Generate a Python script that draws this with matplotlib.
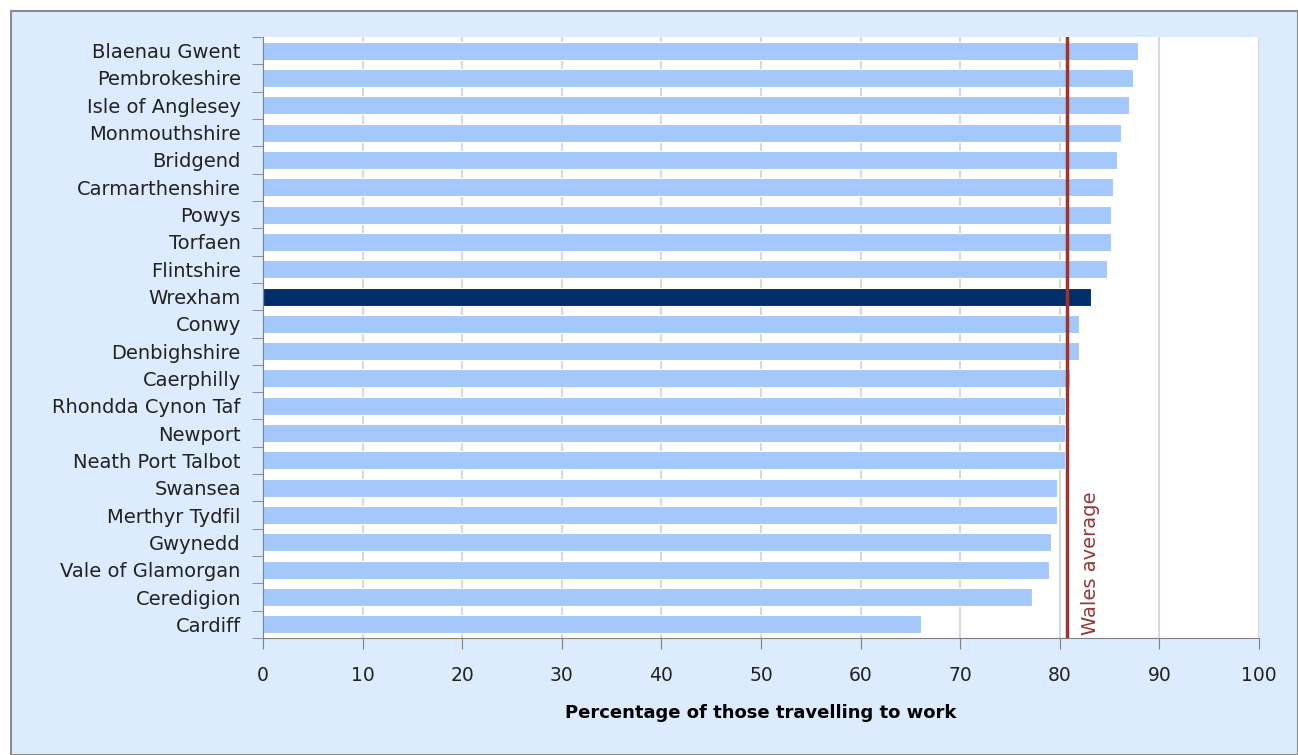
import numpy as np
import matplotlib.pyplot as plt
from matplotlib.patches import Rectangle

#-------------data-------------#
areas = ['Blaenau Gwent', 'Pembrokeshire', 'Isle of Anglesey', 'Monmouthshire',
         'Bridgend', 'Carmarthenshire', 'Powys', 'Torfaen', 'Flintshire',
         'Wrexham', 'Conwy', 'Denbighshire', 'Caerphilly', 'Rhondda Cynon Taf',
         'Newport', 'Neath Port Talbot', 'Swansea', 'Merthyr Tydfil', 'Gwynedd',
         'Vale of Glamorgan', 'Ceredigion', 'Cardiff']
percent = [87.9, 87.3, 86.9, 86.1, 85.7, 85.3, 85.1, 85.1, 84.7, 83.1, 81.9,
           81.9, 81.0, 80.5, 80.5, 80.5, 79.7, 79.7, 79.1, 78.9, 77.2, 66.1]
wales_average = 80.7
highlight = 'Wrexham'
xticks = list(range(0, 101, 10))

light_blue = '#A4C8FB'
navy = '#002E6A'
avg_red = '#953735'
bg = '#DCEBFD'

#-------------figure-------------#
fig = plt.figure(figsize=(12.98, 7.55), dpi=100)
fig.patch.set_facecolor('white')
fig.patches.append(Rectangle((11 / 1298, 0), 1 - 11 / 1298, 1 - 11 / 755,
                             transform=fig.transFigure, facecolor=bg,
                             edgecolor='#8C8C8C', linewidth=1.5, zorder=-1))

ax = fig.add_axes([263 / 1298, 1 - 638 / 755, (1259 - 263) / 1298, (638 - 37) / 755])
ax.set_facecolor('white')

y = np.arange(len(areas))
colors = [navy if a == highlight else light_blue for a in areas]
ax.barh(y, percent, height=0.66, color=colors, edgecolor='white', linewidth=0.8, zorder=2)
ax.set_ylim(len(areas) - 0.5, -0.5)
ax.set_xlim(0, 100)

ax.axvline(wales_average, color=avg_red, linewidth=2.5, zorder=3)
ax.text(wales_average + 1.4, len(areas) - 0.6, 'Wales average', rotation=90,
        color=avg_red, fontsize=14, ha='left', va='bottom', zorder=4)

ax.set_xticks(xticks)
ax.set_xticklabels([str(t) for t in xticks], fontsize=13.5, color='#222222')
ax.set_yticks(y)
ax.set_yticklabels(areas, fontsize=14, color='#222222')
ax.set_yticks(np.arange(len(areas) + 1) - 0.5, minor=True)
ax.tick_params(axis='y', which='major', length=0, pad=16)
ax.tick_params(axis='y', which='minor', length=8, color='#808080', direction='out')
ax.tick_params(axis='x', length=8, color='#808080', direction='out', pad=12)

ax.grid(axis='x', color='#D9D9D9', linewidth=1.5, zorder=0)
ax.set_axisbelow(True)
for side in ['top', 'right']:
    ax.spines[side].set_visible(False)
ax.spines['left'].set_color('#808080')
ax.spines['bottom'].set_color('#808080')

ax.set_xlabel('Percentage of those travelling to work', fontsize=13,
              fontweight='bold', labelpad=14)

plt.savefig('out.png', dpi=100, facecolor=fig.get_facecolor())
